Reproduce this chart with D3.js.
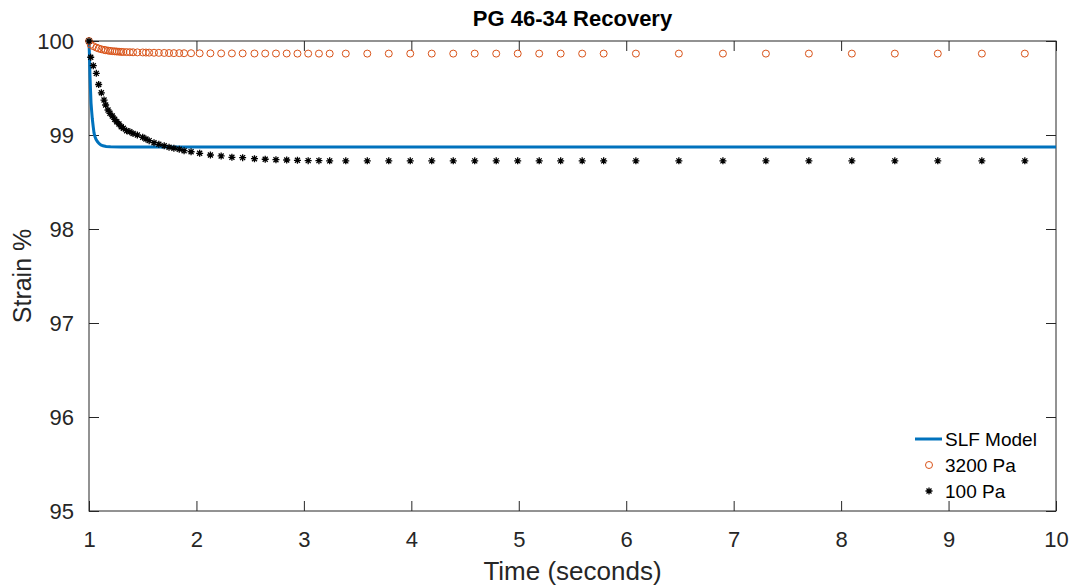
<!DOCTYPE html>
<html lang="en">
<head>
<meta charset="UTF-8">
<title>PG 46-34 Recovery</title>
<script src="https://d3js.org/d3.v7.min.js"></script>
<style>
    body { margin: 0; background: #fff; }
    svg { display: block; font-family: "Liberation Sans", Arial, sans-serif; }
</style>
</head>
<body>
<script>
// time samples (s) shared by both measured series
const times = [1.00, 1.016, 1.04, 1.068, 1.09, 1.115, 1.14, 1.155, 1.177, 1.195, 1.217, 1.239, 1.258, 1.279,
    1.30, 1.32, 1.35, 1.38, 1.41, 1.45, 1.50, 1.53, 1.56, 1.605, 1.65, 1.70, 1.745, 1.79, 1.84, 1.885, 1.95,
    2.03, 2.13, 2.23, 2.33, 2.43, 2.54, 2.64, 2.74, 2.84, 2.94, 3.04, 3.14, 3.24, 3.39, 3.59, 3.79, 3.99,
    4.19, 4.39, 4.59, 4.79, 4.99, 5.19, 5.39, 5.59, 5.79, 6.09, 6.49, 6.90, 7.30, 7.70, 8.10, 8.50, 8.90,
    9.31, 9.71];

const strain3200 = [100, 99.96, 99.945, 99.93, 99.92, 99.912, 99.906, 99.902, 99.898, 99.895, 99.892, 99.89,
    99.888, 99.886, 99.884, 99.883, 99.882, 99.881, 99.88, 99.879, 99.878, 99.877, 99.876, 99.875, 99.874,
    99.873, 99.872, 99.871, 99.871, 99.87, 99.87, 99.869, 99.869, 99.868, 99.868, 99.868, 99.867, 99.867,
    99.867, 99.867, 99.866, 99.866, 99.866, 99.866, 99.866, 99.866, 99.866, 99.866, 99.866, 99.866, 99.866,
    99.866, 99.866, 99.866, 99.866, 99.866, 99.866, 99.866, 99.866, 99.866, 99.866, 99.866, 99.866, 99.866,
    99.866, 99.866, 99.866];

const strain100 = [100, 99.827, 99.737, 99.656, 99.537, 99.449, 99.372, 99.319, 99.266, 99.231, 99.202,
    99.167, 99.141, 99.117, 99.088, 99.071, 99.046, 99.035, 99.016, 99.0, 98.976, 98.957, 98.94, 98.918,
    98.901, 98.886, 98.869, 98.859, 98.848, 98.833, 98.822, 98.805, 98.787, 98.777, 98.763, 98.759, 98.748,
    98.742, 98.737, 98.734, 98.731, 98.727, 98.727, 98.725, 98.725, 98.725, 98.725, 98.725, 98.725, 98.725,
    98.725, 98.725, 98.725, 98.725, 98.725, 98.725, 98.725, 98.725, 98.725, 98.725, 98.725, 98.725, 98.725,
    98.725, 98.725, 98.725, 98.725];

// SLF model curve
const modelTimes = [1.0, 1.005, 1.009, 1.014, 1.019, 1.025, 1.031, 1.039, 1.047, 1.056, 1.065, 1.078,
    1.093, 1.11, 1.13, 1.16, 1.2, 1.3, 10];
const modelStrain = [100, 99.82, 99.64, 99.48, 99.34, 99.25, 99.17, 99.09, 99.02, 98.98, 98.955, 98.93,
    98.91, 98.895, 98.885, 98.878, 98.874, 98.872, 98.872];

const xTicks = [1, 2, 3, 4, 5, 6, 7, 8, 9, 10];
const yTicks = [95, 96, 97, 98, 99, 100];

const W = 1075, H = 588;
const margin = { top: 41, right: 19, bottom: 77, left: 89 };
const width = W - margin.left - margin.right,
    height = H - margin.top - margin.bottom;

const svg = d3.select("body").append("svg")
    .attr("width", W)
    .attr("height", H);

const g = svg.append("g")
    .attr("transform", `translate(${margin.left},${margin.top})`);

const x = d3.scaleLinear().domain([1, 10]).range([0, width]);
const y = d3.scaleLinear().domain([95, 100]).range([height, 0]);

// box
g.append("rect")
    .attr("width", width).attr("height", height)
    .attr("fill", "#fff").attr("stroke", "#262626").attr("stroke-width", 1);

// axes with inward ticks, mirrored on top/right
const tickLen = 10;
g.append("g").attr("transform", `translate(0,${height})`)
    .call(d3.axisBottom(x).tickValues(xTicks).tickFormat(d3.format("d"))
        .tickSizeInner(-tickLen).tickSizeOuter(0).tickPadding(tickLen + 10))
    .call(a => a.select(".domain").remove());
g.append("g")
    .call(d3.axisTop(x).tickValues(xTicks).tickSizeInner(-tickLen).tickSizeOuter(0).tickFormat(""))
    .call(a => a.select(".domain").remove());
g.append("g")
    .call(d3.axisLeft(y).tickValues(yTicks).tickFormat(d3.format("d"))
        .tickSizeInner(-tickLen).tickSizeOuter(0).tickPadding(tickLen + 5))
    .call(a => a.select(".domain").remove());
g.append("g").attr("transform", `translate(${width},0)`)
    .call(d3.axisRight(y).tickValues(yTicks).tickSizeInner(-tickLen).tickSizeOuter(0).tickFormat(""))
    .call(a => a.select(".domain").remove());
g.selectAll(".tick line").attr("stroke", "#262626");
g.selectAll(".tick text")
    .attr("fill", "#262626")
    .style("font-size", "22px")
    .style("font-family", "'Liberation Sans', Arial, sans-serif");

// data layer
const plot = g.append("g");

plot.append("path")
    .datum(modelTimes.map((t, i) => [t, modelStrain[i]]))
    .attr("fill", "none")
    .attr("stroke", "#0072BD")
    .attr("stroke-width", 3)
    .attr("d", d3.line().x(d => x(d[0])).y(d => y(d[1])));

plot.selectAll(".c3200")
    .data(times.map((t, i) => [t, strain3200[i]]))
    .join("circle")
    .attr("class", "c3200")
    .attr("cx", d => x(d[0]))
    .attr("cy", d => y(d[1]))
    .attr("r", 3.5)
    .attr("fill", "none")
    .attr("stroke", "#D95319")
    .attr("stroke-width", 1);

const star = "M-3.5,0H3.5M0,-3.5V3.5M-2.5,-2.5L2.5,2.5M-2.5,2.5L2.5,-2.5";
plot.selectAll(".s100")
    .data(times.map((t, i) => [t, strain100[i]]))
    .join("path")
    .attr("class", "s100")
    .attr("transform", d => `translate(${x(d[0])},${y(d[1])})`)
    .attr("d", star)
    .attr("fill", "none")
    .attr("stroke", "#000")
    .attr("stroke-width", 1.3);

// labels
svg.append("text")
    .attr("x", margin.left + width / 2).attr("y", 26)
    .attr("text-anchor", "middle")
    .style("font-size", "22px").attr("font-weight", "bold")
    .attr("fill", "#000")
    .text("PG 46-34 Recovery");

svg.append("text")
    .attr("x", margin.left + width / 2).attr("y", 580)
    .attr("text-anchor", "middle")
    .style("font-size", "26px")
    .attr("fill", "#262626")
    .text("Time (seconds)");

svg.append("text")
    .attr("transform", `translate(31,${margin.top + height / 2}) rotate(-90)`)
    .attr("text-anchor", "middle")
    .style("font-size", "25px")
    .attr("fill", "#262626")
    .text("Strain %");

// legend
const legend = svg.append("g").attr("transform", "translate(915,439)");
const legendItems = ["SLF Model", "3200 Pa", "100 Pa"];
legendItems.forEach((name, i) => {
    const row = legend.append("g").attr("transform", `translate(0,${i * 26})`);
    if (i === 0) {
        row.append("line").attr("x1", 0).attr("x2", 27).attr("stroke", "#0072BD").attr("stroke-width", 3);
    } else if (i === 1) {
        row.append("circle").attr("cx", 14).attr("r", 3.5).attr("fill", "none")
            .attr("stroke", "#D95319").attr("stroke-width", 1);
    } else {
        row.append("path").attr("transform", "translate(14,0)").attr("d", star)
            .attr("fill", "none").attr("stroke", "#000").attr("stroke-width", 1.3);
    }
    row.append("text").attr("x", 30).attr("dy", "0.35em")
        .style("font-size", "19px").attr("fill", "#000").text(name);
});
</script>
</body>
</html>
